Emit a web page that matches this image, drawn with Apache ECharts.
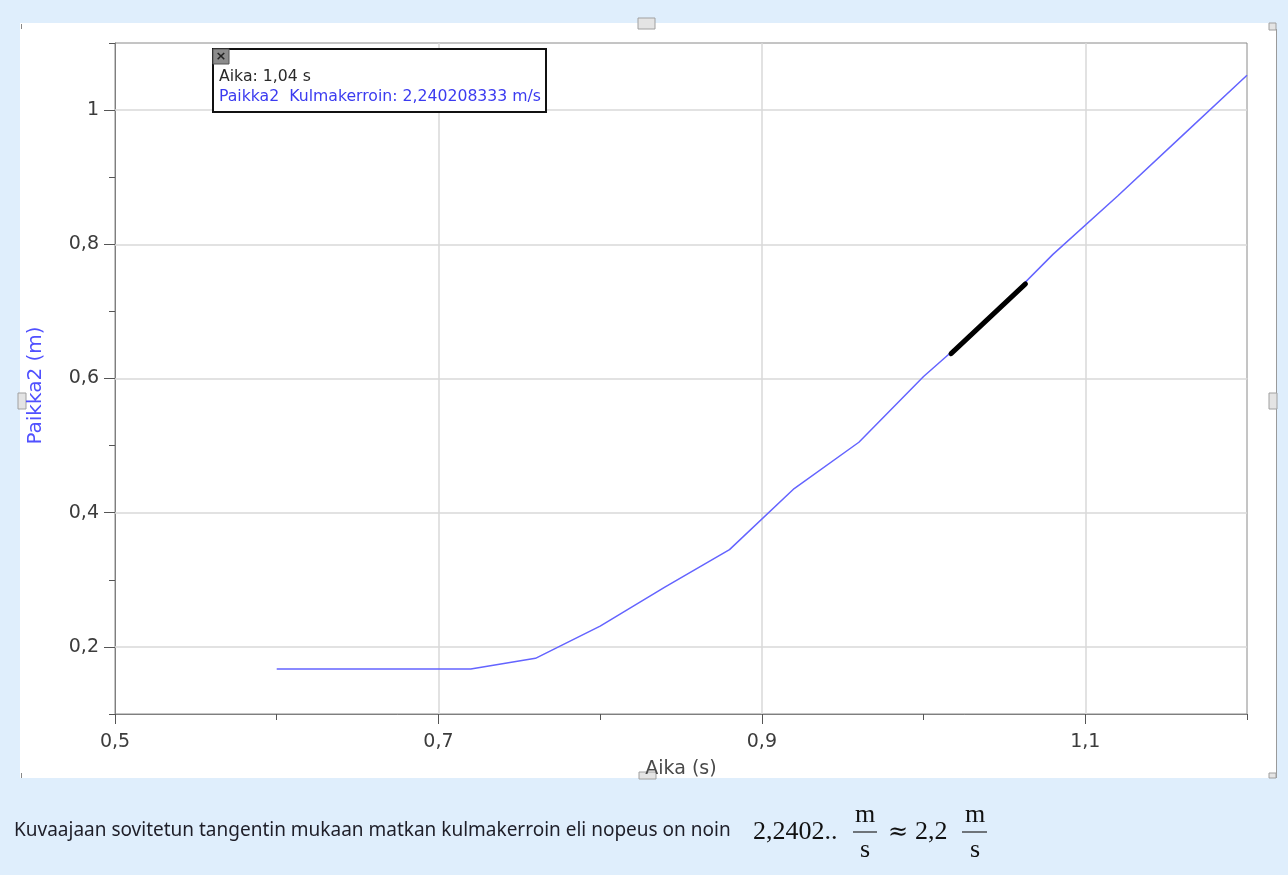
<!DOCTYPE html>
<html>
<head>
<meta charset="utf-8">
<script src="https://cdn.jsdelivr.net/npm/echarts@6/dist/echarts.min.js"></script>
<style>
  html, body { margin: 0; padding: 0; background: #dfeefc; }
  #chart { width: 1288px; height: 875px; }
</style>
</head>
<body>
<div id="chart"></div>
<script>
// ---- data ----
const times     = [0.60, 0.64, 0.68, 0.72, 0.76, 0.80, 0.84, 0.88, 0.92, 0.96, 1.00, 1.04, 1.08, 1.12, 1.16, 1.20];
const positions = [0.167, 0.167, 0.167, 0.167, 0.183, 0.231, 0.289, 0.345, 0.436, 0.505, 0.603, 0.688, 0.785, 0.872, 0.962, 1.052];
const tangentTimes     = [1.017, 1.063];
const tangentPositions = [0.637, 0.741];
const xMajorTicks = [0.5, 0.7, 0.9, 1.1];
const yMajorTicks = [0.2, 0.4, 0.6, 0.8, 1.0];
const xName = 'Aika (s)';
const yName = 'Paikka2 (m)';
const infoLine1 = 'Aika: 1,04 s';
const infoLine2 = 'Paikka2  Kulmakerroin: 2,240208333 m/s';
const captionText = 'Kuvaajaan sovitetun tangentin mukaan matkan kulmakerroin eli nopeus on noin';
const mathValue = '2,2402..';
const mathRounded = '2,2';

const fmt = v => String(+v.toFixed(1)).replace('.', ',');
const isMajor = (list, v) => list.some(t => Math.abs(t - v) < 1e-6);

const mainData = times.map((t, i) => [t, positions[i]]);
const tangentData = tangentTimes.map((t, i) => [t, tangentPositions[i]]);

const gridLines = xMajorTicks.filter(v => v > 0.5).map(v => ({ xAxis: v }))
  .concat(yMajorTicks.map(v => ({ yAxis: v })));

const axisGray = '#7f7f7f';
const labelColor = '#3c3c3c';
const sans = 'DejaVu Sans';
const serif = 'Liberation Serif';

const chart = echarts.init(document.getElementById('chart'), null, { renderer: 'canvas' });

const graphics = [
  // white panel
  { type: 'rect', z: -10, shape: { x: 20, y: 23, width: 1256, height: 755 }, style: { fill: '#ffffff' } },
  // right edge line of panel
  { type: 'line', z: -5, shape: { x1: 1276.5, y1: 29, x2: 1276.5, y2: 778 }, style: { stroke: '#9a9a9a', lineWidth: 1 } },
  // handles
  { type: 'rect', shape: { x: 638, y: 18, width: 17, height: 11 }, style: { fill: '#e4e4e4', stroke: '#a0a0a0', lineWidth: 1 } },
  { type: 'rect', shape: { x: 18, y: 393, width: 8, height: 16 }, style: { fill: '#e4e4e4', stroke: '#a0a0a0', lineWidth: 1 } },
  { type: 'rect', shape: { x: 1269, y: 393, width: 8, height: 16 }, style: { fill: '#e4e4e4', stroke: '#a0a0a0', lineWidth: 1 } },
  { type: 'rect', shape: { x: 639, y: 772, width: 17, height: 7 }, style: { fill: '#e4e4e4', stroke: '#a0a0a0', lineWidth: 1 } },
  { type: 'rect', shape: { x: 1269, y: 23, width: 7, height: 7 }, style: { fill: '#e4e4e4', stroke: '#a0a0a0', lineWidth: 1 } },
  { type: 'rect', shape: { x: 1269, y: 773, width: 7, height: 5 }, style: { fill: '#e4e4e4', stroke: '#a0a0a0', lineWidth: 1 } },
  { type: 'line', shape: { x1: 21.5, y1: 24, x2: 21.5, y2: 29 }, style: { stroke: '#888', lineWidth: 1 } },
  { type: 'line', shape: { x1: 21.5, y1: 773, x2: 21.5, y2: 778 }, style: { stroke: '#888', lineWidth: 1 } },
  // info box
  { type: 'rect', z: 20, shape: { x: 213, y: 49, width: 333, height: 63 }, style: { fill: '#ffffff', stroke: '#111111', lineWidth: 2 } },
  { type: 'rect', z: 21, shape: { x: 213, y: 49, width: 16, height: 15 }, style: { fill: '#8c8c8c', stroke: '#555', lineWidth: 1 } },
  { type: 'text', z: 22, x: 221, y: 56.5, style: { text: '×', fill: '#222', font: 'bold 13px DejaVu Sans', align: 'center', verticalAlign: 'middle' } },
  { type: 'text', z: 22, x: 219, y: 77, style: { text: infoLine1, fill: '#2a2a2a', font: '15.7px DejaVu Sans', align: 'left', verticalAlign: 'middle' } },
  { type: 'text', z: 22, x: 219, y: 97, style: { text: infoLine2, fill: '#3b3bf0', font: '15.7px DejaVu Sans', align: 'left', verticalAlign: 'middle' } },
  // caption
  { type: 'text', x: 14, y: 831, style: { text: captionText, fill: '#1e1e28', font: '19px Noto Sans', align: 'left', verticalAlign: 'middle' } },
  { type: 'text', x: 753, y: 832, style: { text: mathValue, fill: '#111', font: '26px ' + serif, align: 'left', verticalAlign: 'middle' } },
  { type: 'text', x: 865, y: 815, style: { text: 'm', fill: '#111', font: '26px ' + serif, align: 'center', verticalAlign: 'middle' } },
  { type: 'line', shape: { x1: 853, y1: 832, x2: 877, y2: 832 }, style: { stroke: '#222', lineWidth: 1.2 } },
  { type: 'text', x: 865, y: 850, style: { text: 's', fill: '#111', font: '26px ' + serif, align: 'center', verticalAlign: 'middle' } },
  { type: 'text', x: 898, y: 833, style: { text: '≈', fill: '#111', font: '24px DejaVu Serif', align: 'center', verticalAlign: 'middle' } },
  { type: 'text', x: 915, y: 832, style: { text: mathRounded, fill: '#111', font: '26px ' + serif, align: 'left', verticalAlign: 'middle' } },
  { type: 'text', x: 975, y: 815, style: { text: 'm', fill: '#111', font: '26px ' + serif, align: 'center', verticalAlign: 'middle' } },
  { type: 'line', shape: { x1: 962, y1: 832, x2: 987, y2: 832 }, style: { stroke: '#222', lineWidth: 1.2 } },
  { type: 'text', x: 975, y: 850, style: { text: 's', fill: '#111', font: '26px ' + serif, align: 'center', verticalAlign: 'middle' } }
];

const option = {
  animation: false,
  backgroundColor: 'transparent',
  grid: {
    left: 115, top: 43, right: 41, bottom: 161,
    show: true, borderColor: '#8a8a8a', borderWidth: 1, backgroundColor: 'transparent'
  },
  xAxis: [
    {
      type: 'value', min: 0.5, max: 1.2, interval: 0.1, position: 'bottom',
      name: xName, nameLocation: 'middle', nameGap: 46,
      nameTextStyle: { color: '#4a4a4a', fontFamily: sans, fontSize: 19 },
      axisLine: { show: true, lineStyle: { color: axisGray, width: 1 } },
      axisTick: { show: true, length: 6, lineStyle: { color: '#555', width: 1 } },
      axisLabel: {
        margin: 19, color: labelColor, fontFamily: sans, fontSize: 19,
        formatter: v => isMajor(xMajorTicks, v) ? fmt(v) : ''
      },
      splitLine: { show: false }
    },
    {
      type: 'value', min: 0.5, max: 1.2, position: 'bottom', offset: 0,
      axisLine: { show: false },
      axisTick: { show: true, length: 10, customValues: xMajorTicks, lineStyle: { color: '#555', width: 1 } },
      axisLabel: { show: false },
      splitLine: { show: false }
    }
  ],
  yAxis: [
    {
      type: 'value', min: 0.1, max: 1.1, interval: 0.1, position: 'left',
      name: yName, nameLocation: 'middle', nameGap: 69,
      nameTextStyle: { color: '#5050ff', fontFamily: sans, fontSize: 20, padding: [0, 0, 0, -14] },
      axisLine: { show: true, lineStyle: { color: axisGray, width: 1 } },
      axisTick: { show: true, length: 6, lineStyle: { color: '#555', width: 1 } },
      axisLabel: {
        margin: 16, color: labelColor, fontFamily: sans, fontSize: 19,
        formatter: v => isMajor(yMajorTicks, v) ? fmt(v) : ''
      },
      splitLine: { show: false }
    },
    {
      type: 'value', min: 0.1, max: 1.1, position: 'left', offset: 0,
      axisLine: { show: false },
      axisTick: { show: true, length: 11, customValues: yMajorTicks, lineStyle: { color: '#555', width: 1 } },
      axisLabel: { show: false },
      splitLine: { show: false }
    }
  ],
  series: [
    {
      name: 'Paikka2', type: 'line', xAxisIndex: 0, yAxisIndex: 0, z: 6,
      data: mainData, showSymbol: false, symbol: 'none', smooth: false,
      lineStyle: { color: '#6464ff', width: 1.5 },
      markLine: {
        silent: true, symbol: 'none', label: { show: false }, animation: false,
        lineStyle: { color: '#d9d9d9', width: 1.5, type: 'solid' },
        emphasis: { disabled: true },
        data: gridLines
      }
    },
    {
      name: 'Tangentti', type: 'line', xAxisIndex: 0, yAxisIndex: 0, z: 7,
      data: tangentData, showSymbol: false, symbol: 'none',
      lineStyle: { color: '#000000', width: 5, cap: 'round' }
    }
  ],
  graphic: graphics
};

chart.setOption(option);
</script>
</body>
</html>
